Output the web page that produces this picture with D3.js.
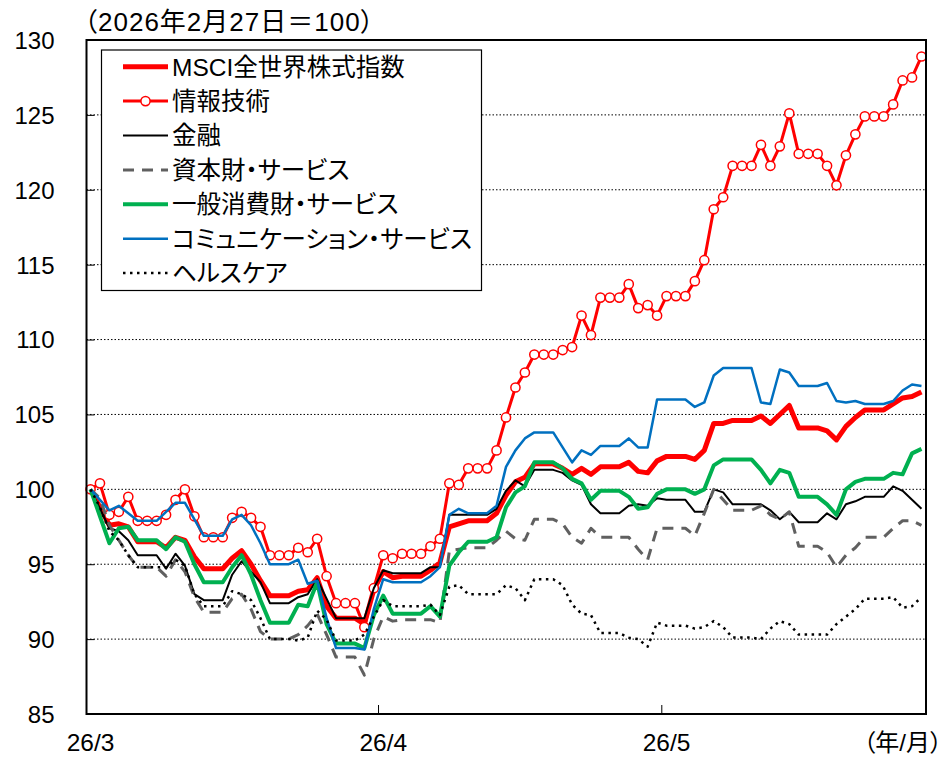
<!DOCTYPE html>
<html><head><meta charset="utf-8">
<script src="https://cdn.jsdelivr.net/npm/d3@7"></script>
<style>
body{margin:0;background:#fff}
svg{display:block}
text{font-family:"Liberation Sans","Noto Sans CJK JP",sans-serif;fill:#000}
.jp{font-feature-settings:"palt"}
</style></head><body>
<svg id="c" width="943" height="758"></svg>
<script>
// categories: calendar days 2026-03-01 .. 2026-05-28 (weekends carry prior close)
const startDate = new Date(2026, 2, 1);
const endDate = new Date(2026, 4, 28);
const dates = d3.timeDay.range(startDate, d3.timeDay.offset(endDate, 1));
const monthStarts = [new Date(2026,2,1), new Date(2026,3,1), new Date(2026,4,1)];
const xTickLabels = ["26/3", "26/4", "26/5"];
const yTicks = [85, 90, 95, 100, 105, 110, 115, 120, 125, 130];
const titleText = "（2026年2月27日＝100）";
const unitText = "（年/月）";
const seriesNames = ["MSCI全世界株式指数","情報技術","金融","資本財・サービス","一般消費財・サービス","コミュニケーション・サービス","ヘルスケア"];

const msci = [100,98.8,97.6,97.7,97.5,96.5,96.5,96.5,96.1,96.8,96.6,95.5,94.7,94.7,94.7,95.4,95.9,95.0,93.9,92.9,92.9,92.9,93.2,93.3,94.1,92.2,91.4,91.4,91.4,91.0,93.3,94.5,94.1,94.2,94.2,94.2,94.6,95.1,97.5,97.7,97.9,97.9,97.9,98.4,99.6,100.5,100.8,101.7,101.7,101.7,101.4,101.0,101.4,101.0,101.5,101.5,101.5,101.8,101.2,101.1,101.9,102.2,102.2,102.2,102.0,102.6,104.4,104.4,104.6,104.6,104.6,104.9,104.4,105.0,105.6,104.1,104.1,104.1,103.9,103.3,104.2,104.8,105.3,105.3,105.3,105.7,106.1,106.2,106.5];
const infoTech = [100,100.4,98.3,98.5,99.5,97.9,97.9,97.9,98.3,99.3,100.0,98.2,96.8,96.8,96.8,98.1,98.5,98.1,97.5,95.6,95.6,95.6,96.1,95.8,96.7,94.2,92.4,92.4,92.4,90.8,93.4,95.6,95.4,95.7,95.7,95.7,96.2,96.7,100.4,100.3,101.4,101.4,101.4,102.6,104.8,106.8,107.8,109.0,109.0,109.0,109.3,109.5,111.6,110.3,112.8,112.8,112.8,113.7,112.1,112.3,111.6,112.9,112.9,112.9,113.9,115.3,118.7,119.5,121.6,121.6,121.6,123.0,121.6,122.9,125.1,122.4,122.4,122.4,121.6,120.3,122.3,123.7,124.9,124.9,124.9,125.7,127.3,127.5,128.9];
const financials = [100,98.7,97.4,97.2,96.6,95.6,95.6,95.6,94.7,95.7,94.9,93.0,92.6,92.6,92.6,94.3,95.2,94.5,93.8,92.4,92.4,92.4,92.8,93.0,94.0,92.7,91.4,91.4,91.4,91.4,93.4,94.6,94.4,94.4,94.4,94.4,94.8,94.8,98.3,98.3,98.3,98.3,98.3,98.7,99.9,100.6,100.2,101.3,101.3,101.3,101.1,100.6,100.3,99.0,98.4,98.4,98.4,98.9,99.0,98.9,99.4,99.3,99.3,99.3,98.5,98.5,100.0,99.8,99.0,99.0,99.0,99.0,98.6,98.0,98.5,97.8,97.8,97.8,98.4,98.0,99.0,99.2,99.5,99.5,99.5,100.2,99.9,99.3,98.7];
const industrials = [100,99.4,97.6,96.6,95.6,94.8,94.8,94.8,94.2,95.3,94.5,92.8,91.8,91.8,91.8,92.7,93.0,92.0,90.5,90.0,90.0,90.0,90.3,90.9,91.7,90.3,88.8,88.8,88.8,87.6,90.0,91.5,91.2,91.3,91.3,91.3,91.3,91.1,95.9,96.0,96.1,96.1,96.1,96.6,97.2,96.7,96.6,98.0,98.0,98.0,97.7,96.8,96.4,97.4,96.8,96.8,96.8,96.8,96.0,95.3,97.4,97.4,97.4,97.4,96.9,98.4,100.0,99.3,98.6,98.6,98.6,98.9,98.3,98.0,98.5,96.2,96.2,96.2,95.8,94.8,95.6,96.1,96.8,96.8,96.8,97.4,97.9,97.9,97.6];
const consDisc = [100,98.2,96.4,97.4,97.5,96.6,96.6,96.6,96.0,96.8,96.5,95.0,93.8,93.8,93.8,94.8,95.6,94.3,92.6,91.1,91.1,91.1,92.3,92.2,93.8,91.0,89.7,89.7,89.7,89.4,91.6,92.9,91.7,91.7,91.7,91.7,92.2,91.5,94.9,95.8,96.5,96.5,96.5,96.8,98.8,99.8,100.2,101.8,101.8,101.8,101.4,100.7,100.4,99.3,99.9,99.9,99.9,99.5,98.7,98.8,99.7,100.0,100.0,100.0,99.7,100.0,101.6,102.0,102.0,102.0,102.0,101.3,100.4,101.3,101.1,99.5,99.5,99.5,99.0,98.3,100.0,100.5,100.7,100.7,100.7,101.1,101.0,102.4,102.7];
const commServ = [100,99.3,98.6,98.9,98.4,97.9,97.9,97.9,98.5,99.1,99.1,98.0,96.9,96.9,96.9,98.0,98.3,97.6,96.4,95.0,95.0,95.0,95.3,93.7,93.9,91.4,89.4,89.4,89.4,89.3,92.0,94.0,93.8,93.8,93.8,93.8,94.2,94.8,98.3,98.7,98.4,98.4,98.4,98.9,101.5,102.6,103.4,103.8,103.8,103.8,102.8,101.8,102.6,102.3,102.9,102.9,102.9,103.4,102.8,102.8,106.0,106.0,106.0,106.0,105.5,105.8,107.6,108.1,108.1,108.1,108.1,105.8,105.7,108.0,107.8,106.9,106.9,106.9,107.1,105.9,105.8,105.9,105.7,105.7,105.7,105.9,106.6,107.0,106.9];
const healthCare = [100,98.8,97.2,96.6,95.6,94.8,94.8,94.8,94.8,95.3,94.9,93.0,92.2,92.2,92.2,93.2,93.0,92.6,91.4,90.0,90.0,90.0,89.9,90.1,91.9,91.3,89.9,89.9,89.9,90.3,91.5,92.6,92.2,92.2,92.2,92.2,92.3,91.6,93.5,93.6,93.0,93.0,93.0,93.0,93.6,93.4,92.6,94.0,94.0,94.0,93.6,92.3,91.7,91.6,90.4,90.4,90.4,90.1,90.0,89.5,91.1,90.9,90.9,90.9,90.7,90.8,91.2,90.8,90.1,90.1,90.1,90.0,90.7,91.2,91.0,90.3,90.3,90.3,90.3,91.0,91.5,92.0,92.7,92.7,92.7,92.8,92.1,92.2,92.8];

const styles = [
  {color:"#ff0000", width:5, dash:null},
  {color:"#ff0000", width:3, dash:null, marker:true},
  {color:"#000000", width:2, dash:null},
  {color:"#606060", width:3, dash:"11,8"},
  {color:"#00b050", width:4, dash:null},
  {color:"#0070c0", width:2.5, dash:null},
  {color:"#000000", width:2.5, dash:"2.5,4.5"}
];
const seriesData = [msci, infoTech, financials, industrials, consDisc, commServ, healthCare];

const svg = d3.select("#c");
const L = 86.5, R = 926, T = 40, B = 714;
const x = d3.scaleLinear().domain([-0.5, dates.length - 0.5]).range([85.8, 926.2]);
const y = d3.scaleLinear().domain([85, 130]).range([B, T]);
const idxOf = d => d3.timeDay.count(startDate, d);

// gridlines
svg.append("g").selectAll("line").data(yTicks.filter(v => v > 85 && v < 130)).join("line")
  .attr("x1", L).attr("x2", R).attr("y1", d => y(d)).attr("y2", d => y(d))
  .attr("stroke", "#000").attr("stroke-width", 1).attr("stroke-dasharray", "1.5,2");

// y axis
const yAxis = d3.axisLeft(y).tickValues(yTicks).tickSize(-8).tickPadding(0).tickFormat(d3.format("d"));
const gy = svg.append("g").attr("transform", `translate(${L},0)`).call(yAxis);
gy.select(".domain").remove();
gy.selectAll(".tick line").attr("stroke", "#000").attr("stroke-width", 1);
gy.selectAll(".tick text").attr("x", -32).attr("text-anchor", "end").attr("dy", "0.35em")
  .style("font-size", "24px");

// x axis ticks at month boundaries
const xTickIdx = monthStarts.slice(1).map(d => idxOf(d) - 0.5);
svg.append("g").selectAll("line").data(xTickIdx).join("line")
  .attr("x1", d => x(d)).attr("x2", d => x(d)).attr("y1", B).attr("y2", B - 9)
  .attr("stroke", "#000").attr("stroke-width", 1);
svg.append("g").selectAll("text").data(monthStarts).join("text")
  .attr("x", d => x(idxOf(d))).attr("y", 751).attr("text-anchor", "middle")
  .style("font-size", "24.5px").text((d, i) => xTickLabels[i]);
svg.append("text").attr("x", 942).attr("y", 751).attr("text-anchor", "end")
  .attr("class", "jp").style("font-size", "24px").text(unitText);

// title
svg.append("text").attr("x", 84).attr("y", 31).attr("class", "jp")
  .style("font-size", "26px").style("letter-spacing", "1px").text(titleText);

// series
const line = d3.line().x((d, i) => x(i)).y(d => y(d));
const gs = svg.append("g");
seriesData.forEach((data, s) => {
  const st = styles[s];
  gs.append("path").datum(data).attr("d", line).attr("fill", "none")
    .attr("stroke", st.color).attr("stroke-width", st.width)
    .attr("stroke-linejoin", "round")
    .attr("stroke-dasharray", st.dash);
  if (st.marker) {
    gs.append("g").selectAll("circle").data(data).join("circle")
      .attr("cx", (d, i) => x(i)).attr("cy", d => y(d)).attr("r", 4.6)
      .attr("fill", "#fff").attr("stroke", st.color).attr("stroke-width", 1.5);
  }
});

// frame
svg.append("rect").attr("x", L).attr("y", T).attr("width", R - L).attr("height", B - T)
  .attr("fill", "none").attr("stroke", "#000").attr("stroke-width", 2);

// legend
const lg = svg.append("g");
lg.append("rect").attr("x", 101.5).attr("y", 50).attr("width", 380).attr("height", 240.5)
  .attr("fill", "#fff").attr("stroke", "#000").attr("stroke-width", 1.2);
seriesNames.forEach((name, i) => {
  const st = styles[i];
  const cy = 66.7 + i * 34.4;
  lg.append("line").attr("x1", 123).attr("x2", 168).attr("y1", cy).attr("y2", cy)
    .attr("stroke", st.color).attr("stroke-width", st.width)
    .attr("stroke-dasharray", st.dash);
  if (st.marker) lg.append("circle").attr("cx", 145.5).attr("cy", cy).attr("r", 4.6)
    .attr("fill", "#fff").attr("stroke", st.color).attr("stroke-width", 1.5);
  lg.append("text").attr("class", "jp").attr("x", 172).attr("y", cy).attr("dy", "0.36em")
    .style("font-size", "24.5px").text(name);
});
</script>
</body></html>
